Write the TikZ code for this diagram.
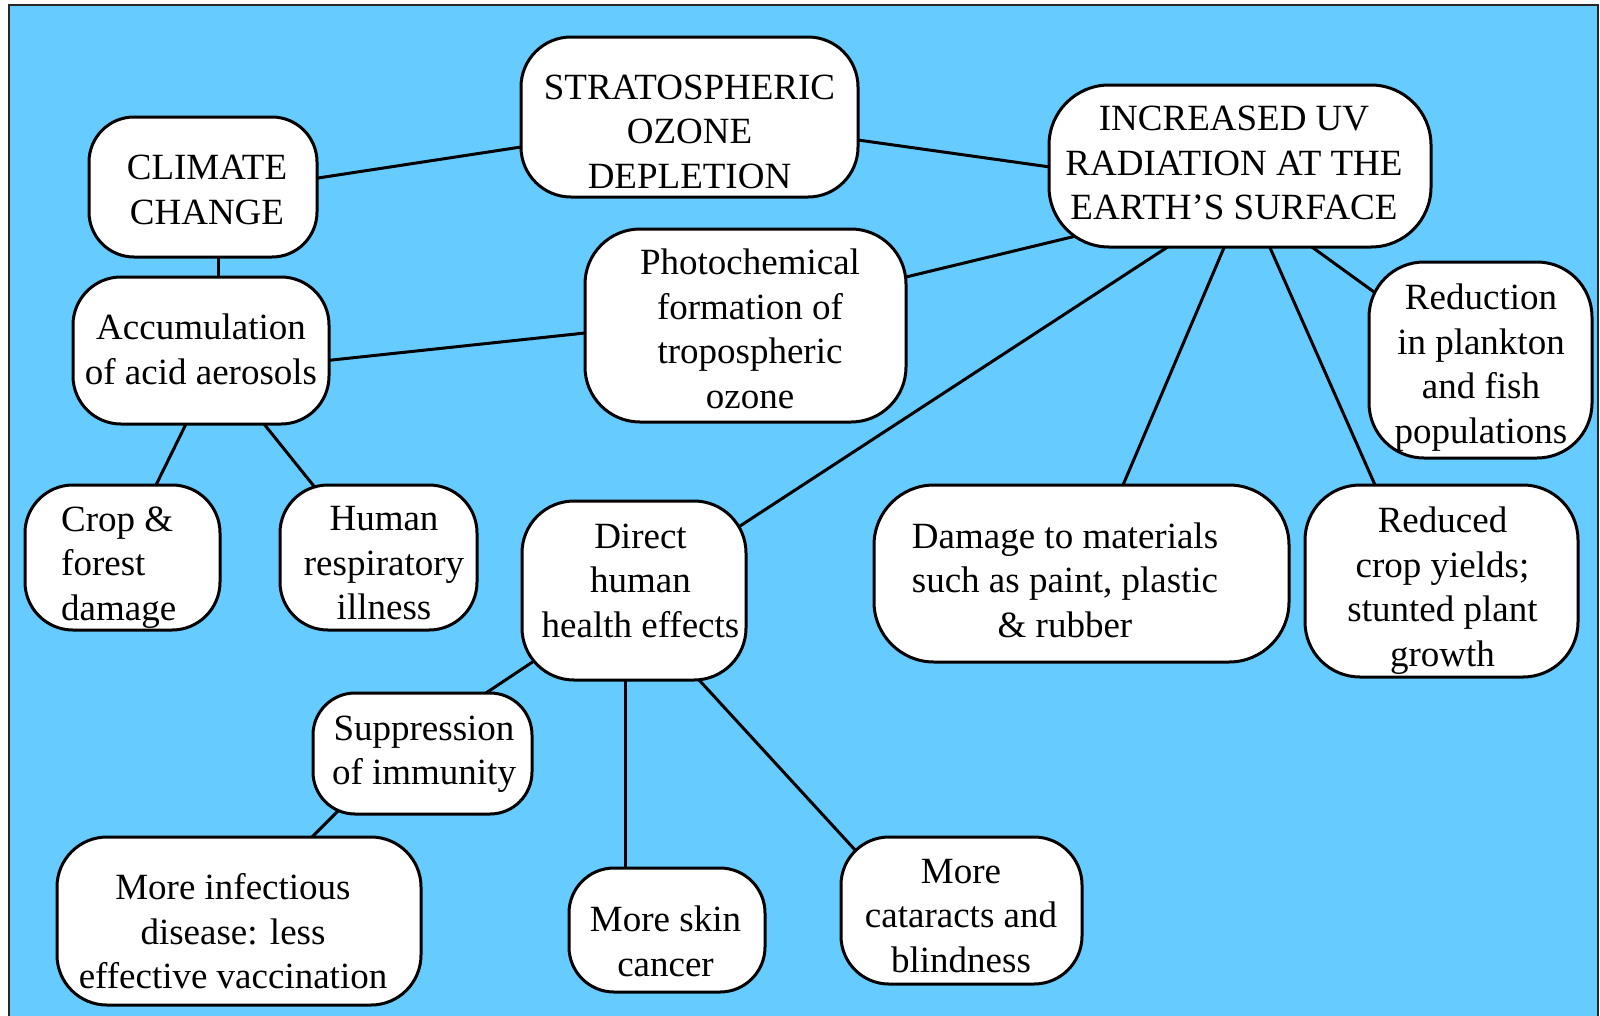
\documentclass[tikz,border=0pt]{standalone}
\usepackage{fontspec}
\setmainfont{Liberation Serif}
\usetikzlibrary{calc}
\definecolor{skyblue}{HTML}{66CCFF}
\pgfdeclarelayer{bglayer}
\pgfdeclarelayer{linelayer}
\pgfsetlayers{bglayer,linelayer,main}
\tikzset{
  box/.style={draw=black, line width=3pt, fill=white, rounded corners=#1, inner sep=0pt},
  box/.default=48pt,
  txt/.style={align=center, inner sep=0pt, font=\fontsize{37}{44.5}\selectfont},
  conn/.style={line width=3pt, shorten <=-8pt, shorten >=-8pt},
}
\begin{document}
\begin{tikzpicture}[x=1pt,y=-1pt]
\clip (0,0) rectangle (1600,1015);
\useasboundingbox (0,0) rectangle (1600,1015);
\begin{pgfonlayer}{bglayer}
  \fill[white] (0,0) rectangle (1600,1015);
  \fill[skyblue] (9,5) rectangle (1598,1030);
  \draw[line width=2pt, black!85] (9,5) rectangle (1598,1030);
\end{pgfonlayer}

% boxes
\node[box=45pt, minimum width=228pt, minimum height=140pt] (clim) at (203,187) {};
\node[txt] (climT) at (207,190) {CLIMATE\\CHANGE};

\node[box=50pt, minimum width=337pt, minimum height=160pt] (strat) at (689.5,117) {};
\node[txt] (stratT) at (689.5,131.5) {STRATOSPHERIC\\OZONE\\DEPLETION};

\node[box=60pt, minimum width=382pt, minimum height=162pt] (inc) at (1240,166) {};
\node[txt] (incT) at (1234,163) {INCREASED UV\\RADIATION AT THE\\EARTH’S SURFACE};

\node[box=48pt, minimum width=256pt, minimum height=147pt] (accum) at (201,350.5) {};
\node[txt] (accumT) at (201,349.5) {Accumulation\\of acid aerosols};

\node[box=55pt, minimum width=321pt, minimum height=193pt] (photo) at (745.5,325.5) {};
\node[txt] (photoT) at (750,329) {Photochemical\\formation of\\tropospheric\\ozone};

\node[box=55pt, minimum width=223pt, minimum height=196pt] (reduction) at (1480.5,360) {};
\node[txt] (reductionT) at (1481,367.5) {Reduction\\in plankton\\and fish\\populations};

\node[box=48pt, minimum width=195pt, minimum height=145pt] (crop) at (122.5,557.5) {};
\node[txt, align=left, anchor=west] (cropT) at (61,567.5) {Crop \&\\forest\\damage};

\node[box=48pt, minimum width=197pt, minimum height=145pt] (human) at (378.5,557.5) {};
\node[txt] (humanT) at (384,563.5) {Human\\respiratory\\illness};

\node[box=52pt, minimum width=224pt, minimum height=179pt] (direct) at (634,590.5) {};
\node[txt] (directT) at (640.5,580.5) {Direct\\human\\health effects};

\node[box=60pt, minimum width=415pt, minimum height=177pt] (damage) at (1081.5,573.5) {};
\node[txt] (damageT) at (1065,580) {Damage to materials\\such as paint, plastic\\\& rubber};

\node[box=55pt, minimum width=273pt, minimum height=192pt] (reduced) at (1441.5,581) {};
\node[txt] (reducedT) at (1442.5,590.5) {Reduced\\crop yields;\\stunted plant\\growth};

\node[box=42pt, minimum width=219pt, minimum height=121pt] (supp) at (422.5,753.5) {};
\node[txt] (suppT) at (424,754) {Suppression\\of immunity};

\node[box=50pt, minimum width=364pt, minimum height=168pt] (infect) at (239,921) {};
\node[txt] (infectT) at (233,931.5) {More infectious\\disease: less\\effective vaccination};

\node[box=45pt, minimum width=196pt, minimum height=124pt] (skin) at (667,930) {};
\node[txt] (skinT) at (665.5,941.5) {More skin\\cancer};

\node[box=48pt, minimum width=241pt, minimum height=147pt] (cat) at (961.5,910.5) {};
\node[txt] (catT) at (961,916) {More\\cataracts and\\blindness};

% connectors
\begin{pgfonlayer}{linelayer}
\draw[conn] ($(clim.center)+(115,-9)$) -- ($(strat.center)+(-168.5,30)$);
\draw[conn] ($(strat.center)+(168.5,23)$) -- ($(inc.center)+(-190,1)$);
\draw[conn] ($(clim.center)+(15,70)$) -- ($(accum.center)+(17,-73.5)$);
\draw[conn] ($(accum.center)+(131,9.5)$) -- ($(photo.center)+(-160.5,7.5)$);
\draw[conn] ($(photo.center)+(160.5,-48.5)$) -- ($(inc.center)+(-164,70)$);
\draw[conn] ($(inc.center)+(-77,84)$) -- ($(direct.center)+(106,-64.5)$);
\draw[conn] ($(inc.center)+(-17,84)$) -- ($(damage.center)+(41.5,-88.5)$);
\draw[conn] ($(inc.center)+(31,84)$) -- ($(reduced.center)+(-66.5,-96)$);
\draw[conn] ($(inc.center)+(76,84)$) -- ($(reduction.center)+(-106.5,-68)$);
\draw[conn] ($(accum.center)+(-15,73.5)$) -- ($(crop.center)+(33.5,-72.5)$);
\draw[conn] ($(accum.center)+(63,73.5)$) -- ($(human.center)+(-65.5,-72.5)$);
\draw[conn] ($(direct.center)+(-100,70.5)$) -- ($(supp.center)+(63.5,-60.5)$);
\draw[conn] ($(supp.center)+(-84.5,57.5)$) -- ($(infect.center)+(73,-84)$);
\draw[conn] ($(direct.center)+(-9,89.5)$) -- ($(skin.center)+(-42,-62)$);
\draw[conn] ($(direct.center)+(66,90.5)$) -- ($(cat.center)+(-105.5,-59.5)$);
\end{pgfonlayer}
\end{tikzpicture}
\end{document}
